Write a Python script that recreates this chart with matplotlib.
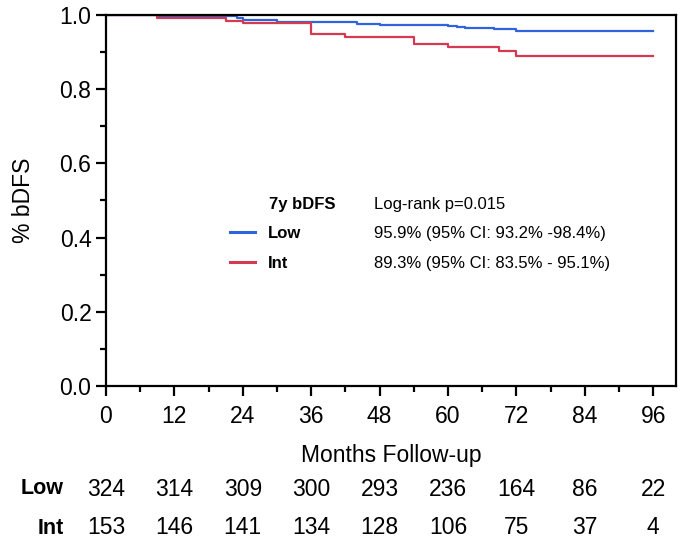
#!/usr/bin/env python3
import matplotlib
matplotlib.use("Agg")
import matplotlib.pyplot as plt
from matplotlib.lines import Line2D
from matplotlib.ticker import MultipleLocator, FormatStrFormatter

plt.rcParams["font.family"] = ["Liberation Sans", "DejaVu Sans"]

# Kaplan-Meier step curves (months, survival)
low_t = [0, 9, 23, 24, 30, 42, 44, 46, 48, 60, 61.5, 63, 68, 72, 96]
low_s = [1.0, 0.996, 0.992, 0.986, 0.982, 0.980, 0.977, 0.975, 0.973,
         0.971, 0.968, 0.966, 0.962, 0.957, 0.957]
int_t = [0, 9, 21, 24, 36, 42, 54, 60, 69, 72, 96]
int_s = [1.0, 0.991, 0.985, 0.978, 0.948, 0.940, 0.922, 0.914, 0.904,
         0.890, 0.890]

# numbers at risk
risk_months = [0, 12, 24, 36, 48, 60, 72, 84, 96]
risk_low = [324, 314, 309, 300, 293, 236, 164, 86, 22]
risk_int = [153, 146, 141, 134, 128, 106, 75, 37, 4]

BLUE = "#3064dc"
RED = "#d43a52"
LEG_FS = 12

fig = plt.figure(figsize=(6.86, 5.41), dpi=100)
ax = fig.add_axes([0.1545, 0.2865, 0.831, 0.6858])

ax.step(low_t, low_s, where="post", color=BLUE, lw=1.6, zorder=2)
ax.step(int_t, int_s, where="post", color=RED, lw=1.6, zorder=2)

ax.set_xlim(0, 100)
ax.set_ylim(0, 1.0)
for sp in ax.spines.values():
    sp.set_linewidth(1.6)
    sp.set_zorder(3)

ax.xaxis.set_minor_locator(MultipleLocator(6))
ax.yaxis.set_major_locator(MultipleLocator(0.2))
ax.yaxis.set_minor_locator(MultipleLocator(0.1))
ax.yaxis.set_major_formatter(FormatStrFormatter("%.1f"))
ax.set_xticks(risk_months)
ax.tick_params(which="major", direction="out", length=7.5, width=1.6)
ax.tick_params(which="minor", direction="out", length=4, width=1.6)
ax.tick_params(axis="y", labelsize=16.5, pad=3)
ax.tick_params(axis="x", labelsize=16.5, pad=6)

ax.set_ylabel("% bDFS", fontsize=16.5, labelpad=18)
ax.set_xlabel("Months Follow-up", fontsize=16.5, labelpad=12)

# legend block
handles = [Line2D([], [], color=BLUE, lw=2.2), Line2D([], [], color=RED, lw=2.2)]
ax.legend(handles, ["Low", "Int"], loc="upper left",
          bbox_to_anchor=(0.2175, 0.432), frameon=False,
          prop={"size": LEG_FS, "weight": "bold"}, borderpad=0,
          borderaxespad=0, handlelength=1.5, handletextpad=0.8,
          labelspacing=0.93)
ax.text(28.6, 0.489, "7y bDFS", fontsize=LEG_FS, fontweight="bold", va="center")
ax.text(47.1, 0.489, "Log-rank p=0.015", fontsize=LEG_FS, va="center")
ax.text(47.1, 0.411, "95.9% (95% CI: 93.2% -98.4%)", fontsize=LEG_FS, va="center")
ax.text(47.1, 0.330, "89.3% (95% CI: 83.5% - 95.1%)", fontsize=LEG_FS, va="center")

# numbers-at-risk table under the axis
y_low = 1 - 489 / 541
y_int = 1 - 528 / 541
fig.text(64 / 686, y_low, "Low", fontsize=15.5, fontweight="bold",
         ha="right", va="center")
fig.text(64 / 686, y_int, "Int", fontsize=15.5, fontweight="bold",
         ha="right", va="center")
for m, lo, it in zip(risk_months, risk_low, risk_int):
    xf = fig.transFigure.inverted().transform(ax.transData.transform((m, 0)))[0]
    fig.text(xf, y_low, str(lo), fontsize=16.5, ha="center", va="center")
    fig.text(xf, y_int, str(it), fontsize=16.5, ha="center", va="center")

fig.savefig("out.png", dpi=100)
